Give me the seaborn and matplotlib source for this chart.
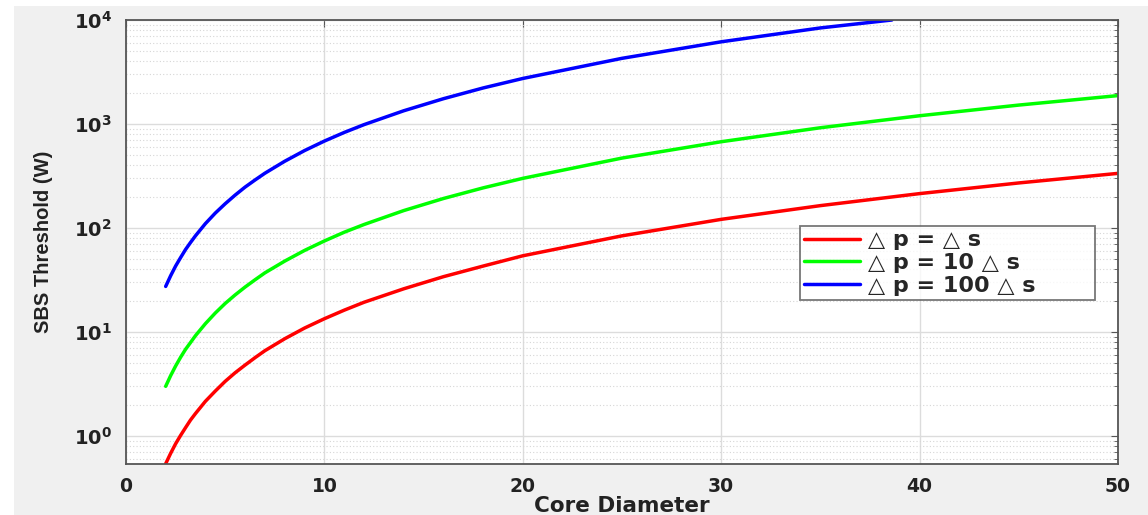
import numpy as np
import pandas as pd
import seaborn as sns
import matplotlib.pyplot as plt
from matplotlib.patches import Rectangle
from matplotlib.ticker import LogLocator, FixedLocator, NullFormatter

# -----------------------------
# Data
# -----------------------------
core_diameter = [2, 2.25, 2.5, 2.75, 3, 3.25, 3.5, 4, 4.5, 5, 5.5, 6, 6.5, 7,
                 8, 9, 10, 11, 12, 14, 16, 18, 20, 25, 30, 35, 40, 45, 50]
sbs_equal = [0.54, 0.68, 0.84, 1.01, 1.2, 1.42, 1.64, 2.15, 2.7, 3.35, 4.05,
             4.8, 5.65, 6.6, 8.6, 10.9, 13.4, 16.2, 19.3, 26, 34, 43, 54,
             84, 121, 164, 214, 271, 335]
sbs_ten = [3.0, 3.8, 4.7, 5.7, 6.8, 7.9, 9.2, 12, 15.2, 18.8, 22.7, 27, 31.7,
           37, 48, 60.8, 75, 91, 108, 147, 192, 243, 300, 470, 675, 920,
           1200, 1520, 1875]
blue_diameter = [2, 2.25, 2.5, 2.75, 3, 3.25, 3.5, 4, 4.5, 5, 5.5, 6, 6.5, 7,
                 8, 9, 10, 11, 12, 14, 16, 18, 20, 25, 30, 35, 38.6]
sbs_hundred = [27.4, 34.7, 43, 51.8, 62, 72.4, 84, 110, 139, 171, 207, 247,
               289, 336, 438, 555, 685, 829, 986, 1340, 1750, 2220, 2740,
               4280, 6170, 8390, 10000]

labels = ['\u25b3 p = \u25b3 s', '\u25b3 p = 10 \u25b3 s', '\u25b3 p = 100 \u25b3 s']
colors = ['#ff0000', '#00ff00', '#0000ff']

sns.set_style('white')
plt.rcParams['font.family'] = ['DejaVu Sans']
plt.rcParams['mathtext.fontset'] = 'custom'
plt.rcParams['mathtext.rm'] = 'DejaVu Sans:bold'
plt.rcParams['mathtext.bf'] = 'DejaVu Sans:bold'

fig = plt.figure(figsize=(11.48, 5.15), dpi=100, facecolor='white')
fig.patches.append(Rectangle((14 / 1148, 0), 1, 1 - 6 / 515, transform=fig.transFigure,
                             facecolor='#f0f0f0', edgecolor='none', zorder=-10))
ax = fig.add_axes([126 / 1148, 1 - 464 / 515, (1118 - 126) / 1148, (464 - 20) / 515])
ax.set_facecolor('white')

df = pd.concat([
    pd.DataFrame({'d': core_diameter, 'p': sbs_equal, 'case': labels[0]}),
    pd.DataFrame({'d': core_diameter, 'p': sbs_ten, 'case': labels[1]}),
    pd.DataFrame({'d': blue_diameter, 'p': sbs_hundred, 'case': labels[2]}),
])

sns.lineplot(data=df, x='d', y='p', hue='case', palette=colors, linewidth=2.5,
             ax=ax, sort=False, estimator=None)

ax.set_yscale('log')
ax.set_xlim(0, 50)
ax.set_ylim(10 ** -0.27, 1e4)
ax.set_xticks([0, 10, 20, 30, 40, 50])
ax.yaxis.set_major_locator(FixedLocator([1, 10, 100, 1000, 10000]))
ax.set_yticklabels([r'$\mathbf{10^{0}}$', r'$\mathbf{10^{1}}$', r'$\mathbf{10^{2}}$',
                    r'$\mathbf{10^{3}}$', r'$\mathbf{10^{4}}$'])
ax.yaxis.set_minor_locator(LogLocator(base=10, subs=np.arange(2, 10), numticks=20))
ax.yaxis.set_minor_formatter(NullFormatter())

# MATLAB-like grid and box
ax.grid(True, which='major', color='#dcdcdc', linewidth=1.0, linestyle='-')
ax.grid(True, which='minor', axis='y', color='#d6d6d6', linewidth=0.8, linestyle=(0, (1, 2)))
for s in ax.spines.values():
    s.set_visible(True)
    s.set_color('#555555')
    s.set_linewidth(1.3)
ax.tick_params(which='both', direction='in', top=True, right=True, colors='#555555')
ax.tick_params(which='major', length=5, pad=9, labelcolor='#222222')
ax.tick_params(axis='x', which='major', labelsize=13.5)
ax.tick_params(axis='y', which='major', labelsize=14, pad=10)
ax.tick_params(which='minor', length=3)
for t in ax.get_xticklabels():
    t.set_fontweight('bold')

ax.set_xlabel('Core Diameter', fontsize=15.5, fontweight='bold', color='#222222', labelpad=0)
ax.set_ylabel('SBS Threshold (W)', fontsize=14.5, fontweight='bold', family=['Liberation Sans'],
              color='#222222', labelpad=15)

x0 = (800 - 126) / 992
y1 = (464 - 226) / 444
leg = ax.legend(loc='upper left', bbox_to_anchor=(x0, y1 - 0.18, (1095 - 800) / 992, 0.18),
                mode='expand', borderaxespad=0, frameon=True, fancybox=False,
                handlelength=2.5, handletextpad=0.35, labelspacing=0.12, borderpad=0.2,
                prop={'family': ['DejaVu Sans'], 'weight': 'bold', 'size': 16})
leg.get_frame().set_edgecolor('#555555')
leg.get_frame().set_linewidth(1.3)
for h in leg.get_lines():
    h.set_linewidth(2.5)

fig.savefig('out.png', dpi=100, facecolor=fig.get_facecolor())
